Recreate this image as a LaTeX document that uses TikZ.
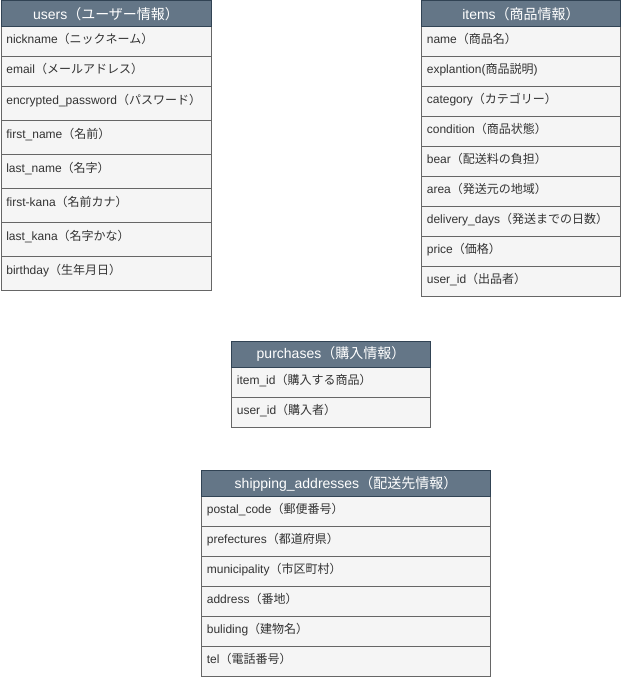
\documentclass[tikz,border=0pt]{standalone}
\usepackage{fontspec}
\setmainfont{Liberation Sans}
\newfontfamily\jp{Noto Sans CJK JP}
\definecolor{hdrfill}{HTML}{647687}
\definecolor{hdrline}{HTML}{314354}
\definecolor{rowfill}{HTML}{F5F5F5}
\definecolor{rowline}{HTML}{666666}
\definecolor{rowtext}{HTML}{333333}
\newcommand\J[1]{{\jp #1}}
\begin{document}
\begin{tikzpicture}[x=0.75pt,y=-0.75pt,
  hdr/.style={draw=hdrline, fill=hdrfill, text=white, font=\fontsize{10.5pt}{12pt}\selectfont, anchor=north west, inner sep=0pt, minimum height=19.5pt, line width=0.75pt},
  rowbox/.style={draw=rowline, fill=rowfill, text=rowtext, font=\fontsize{9pt}{11pt}\selectfont, anchor=north west, inner xsep=4pt, inner ysep=0pt, align=left, line width=0.75pt},
  r30/.style={rowbox, minimum height=22.5pt, text height=12.75pt, text depth=9.75pt},
  r34/.style={rowbox, minimum height=25.5pt, text height=13.25pt, text depth=12.25pt},
  wU/.style={minimum width=157.5pt, text width=149.5pt},
  wI/.style={minimum width=149.25pt, text width=141.25pt},
  wS/.style={minimum width=216.75pt, text width=208.75pt},
  hU/.style={minimum width=157.5pt},
  hI/.style={minimum width=149.25pt},
  hS/.style={minimum width=216.75pt}
]
\useasboundingbox (0,0) rectangle (621,680);

% users
\node[r30,wU] (u1) at (0.5,26) {nickname\J{（ニックネーム）}};
\node[r30,wU] (u2) at (0.5,56) {email\J{（メールアドレス）}};
\node[r34,wU] (u3) at (0.5,86) {encrypted\_password\J{（パスワード）}};
\node[r34,wU] (u4) at (0.5,120) {first\_name\J{（名前）}};
\node[r34,wU] (u5) at (0.5,154) {last\_name\J{（名字）}};
\node[r34,wU] (u6) at (0.5,188) {first-kana\J{（名前カナ）}};
\node[r34,wU] (u7) at (0.5,222) {last\_kana\J{（名字かな）}};
\node[r34,wU] (u8) at (0.5,256) {birthday\J{（生年月日）}};
\node[hdr,hU] (users) at (0.5,0.5) {users\J{（ユーザー情報）}};

% items
\node[r30,wI] (i1) at (421,26) {name\J{（商品名）}};
\node[r30,wI] (i2) at (421,56) {explantion(\J{商品説明})};
\node[r30,wI] (i3) at (421,86) {category\J{（カテゴリー）}};
\node[r30,wI] (i4) at (421,116) {condition\J{（商品状態）}};
\node[r30,wI] (i5) at (421,146) {bear\J{（配送料の負担）}};
\node[r30,wI] (i6) at (421,176) {area\J{（発送元の地域）}};
\node[r30,wI] (i7) at (421,206) {delivery\_days\J{（発送までの日数）}};
\node[r30,wI] (i8) at (421,236) {price\J{（価格）}};
\node[r30,wI] (i9) at (421,266) {user\_id\J{（出品者）}};
\node[hdr,hI] (items) at (421,0.5) {items\J{（商品情報）}};

% purchases
\node[r30,wI] (p1) at (231,366.5) {item\_id\J{（購入する商品）}};
\node[r30,wI] (p2) at (231,396.5) {user\_id\J{（購入者）}};
\node[hdr,hI] (purchases) at (231,340.5) {purchases\J{（購入情報）}};

% shipping addresses
\node[r30,wS] (s1) at (201,496) {postal\_code\J{（郵便番号）}};
\node[r30,wS] (s2) at (201,526) {prefectures\J{（都道府県）}};
\node[r30,wS] (s3) at (201,556) {municipality\J{（市区町村）}};
\node[r30,wS] (s4) at (201,586) {address\J{（番地）}};
\node[r30,wS] (s5) at (201,616) {buliding\J{（建物名）}};
\node[r30,wS] (s6) at (201,646) {tel\J{（電話番号）}};
\node[hdr,hS] (shipping) at (201,470) {shipping\_addresses\J{（配送先情報）}};
\end{tikzpicture}
\end{document}
